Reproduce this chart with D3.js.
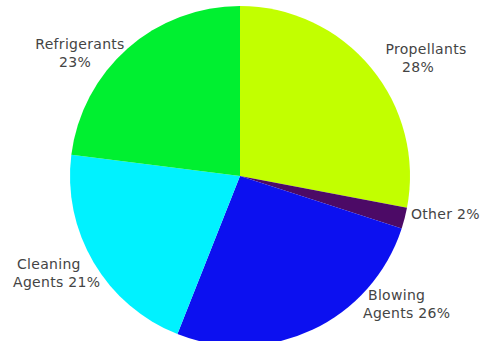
<!DOCTYPE html>
<html>
<head>
<meta charset="utf-8">
<script src="https://cdn.jsdelivr.net/npm/d3@7"></script>
<style>
  html, body { margin: 0; padding: 0; background: #fff; }
  svg { display: block; }
</style>
</head>
<body>
<svg id="chart" width="482" height="341"></svg>
<script>
const categories = ["Propellants", "Other", "Blowing Agents", "Cleaning Agents", "Refrigerants"];
const values = [28, 2, 26, 21, 23];
const colors = ["#c2ff00", "#4c0a66", "#0c10f0", "#00f2ff", "#00f030"];
const labelLines = [["Propellants", "28%"], ["Other 2%"], ["Blowing", "Agents 26%"], ["Cleaning", "Agents 21%"], ["Refrigerants", "23%"]];

// label layout (offsets from pie centre, text anchor)
const labelLayout = [
  { dx: 186, dy: -122, lineAnchors: ["middle", "middle"], lineDx: [0, -8] },
  { dx: 171, dy: 43, lineAnchors: ["start"], lineDx: [0] },
  { dx: 123, dy: 124, lineAnchors: ["start", "start"], lineDx: [5, 0] },
  { dx: -227, dy: 93, lineAnchors: ["start", "start"], lineDx: [4, 0] },
  { dx: -160, dy: -127, lineAnchors: ["middle", "middle"], lineDx: [0, -5] }
];

const svg = d3.select("#chart");
const cx = 240, cy = 176, R = 170;
const g = svg.append("g").attr("transform", `translate(${cx},${cy})`);

const pie = d3.pie().sort(null).value(d => d.value);
const arcs = pie(categories.map((c, i) => ({ cat: c, value: values[i], i })));
const arc = d3.arc().innerRadius(0).outerRadius(R);

g.selectAll("path.slice")
  .data(arcs)
  .join("path")
  .attr("class", "slice")
  .attr("d", arc)
  .attr("fill", d => colors[d.data.i]);

const lineH = 18;
arcs.forEach(d => {
  const i = d.data.i;
  const L = labelLayout[i];
  const t = g.append("text")
    .attr("font-family", "DejaVu Sans, sans-serif")
    .attr("font-size", 14)
    .attr("fill", "#444")
    .attr("letter-spacing", 0.3);
  labelLines[i].forEach((line, k) => {
    t.append("tspan")
      .attr("x", L.dx + L.lineDx[k])
      .attr("y", L.dy + k * lineH)
      .attr("text-anchor", L.lineAnchors[k])
      .text(line);
  });
});
</script>
</body>
</html>
